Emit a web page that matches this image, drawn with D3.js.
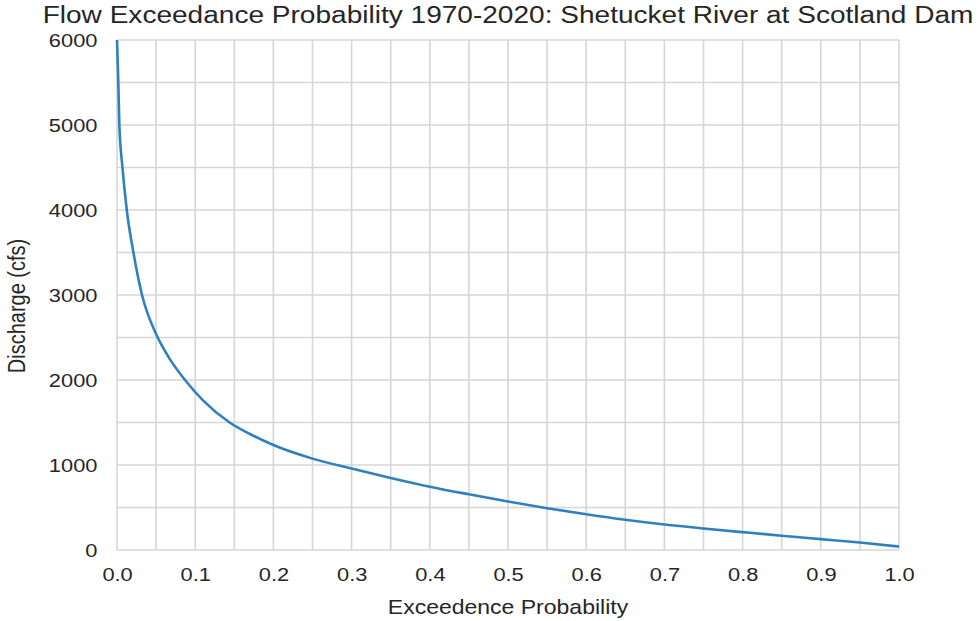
<!DOCTYPE html>
<html>
<head>
<meta charset="utf-8">
<script src="https://cdn.jsdelivr.net/npm/d3@7"></script>
<style>
  body { margin: 0; background: #fff; }
  text { font-family: "Liberation Sans", Arial, sans-serif; fill: #262626; }
  .nss { vector-effect: non-scaling-stroke; }
</style>
</head>
<body>
<div class="result"></div>
<script>
// Page size; the picture is slightly wider than tall in its drawing units
const w = 979;
const h = 621;
const sx = 1.15;            // horizontal stretch of the whole figure
const iw = w / sx;          // inner drawing width
const margin = { top: 40, right: 80 / sx, bottom: 71, left: 117 / sx };

// Data
const exceedance = [0, 0.0017, 0.003, 0.007, 0.0125, 0.021, 0.032, 0.05, 0.068, 0.087,
  0.11, 0.144, 0.17, 0.2, 0.25, 0.3, 0.35, 0.4, 0.45, 0.5,
  0.55, 0.6, 0.65, 0.7, 0.75, 0.8, 0.85, 0.9, 0.95, 1.0];
const discharge = [6000, 5500, 5000, 4500, 4000, 3500, 3000, 2540, 2240, 2000,
  1760, 1500, 1365, 1235, 1075, 958, 848, 745, 655, 570,
  492, 421, 356, 300, 253, 210, 168, 128, 88, 40];
const xTicks = [0, 0.1, 0.2, 0.3, 0.4, 0.5, 0.6, 0.7, 0.8, 0.9, 1.0];
const yTicks = [0, 1000, 2000, 3000, 4000, 5000, 6000];
const xGrid = d3.range(0, 21).map(i => i * 0.05);
const yGrid = d3.range(0, 13).map(i => i * 500);

const dataset = exceedance.map((p, i) => [p, discharge[i]]);

// Scales
const xScale = d3.scaleLinear()
  .domain([0, 1])
  .range([margin.left, iw - margin.right]);

const yScale = d3.scaleLinear()
  .domain([0, 6000])
  .range([h - margin.bottom, margin.top]);

const svg = d3.select('.result')
  .append('svg')
  .attr('width', w)
  .attr('height', h)
  .attr('viewBox', '0 0 ' + iw + ' ' + h)
  .attr('preserveAspectRatio', 'none');

// Grid
const gridColor = '#d6d6d6';
svg.append('g')
  .selectAll('line')
  .data(xGrid)
  .enter()
  .append('line')
  .attr('class', 'nss')
  .attr('x1', d => xScale(d))
  .attr('x2', d => xScale(d))
  .attr('y1', yScale(0))
  .attr('y2', yScale(6000))
  .attr('stroke', gridColor)
  .attr('stroke-width', 1.6);

svg.append('g')
  .selectAll('line')
  .data(yGrid)
  .enter()
  .append('line')
  .attr('class', 'nss')
  .attr('x1', xScale(0))
  .attr('x2', xScale(1))
  .attr('y1', d => yScale(d))
  .attr('y2', d => yScale(d))
  .attr('stroke', gridColor)
  .attr('stroke-width', 1.6);

// Curve
const line = d3.line()
  .x(d => xScale(d[0]))
  .y(d => yScale(d[1]))
  .curve(d3.curveMonotoneX);

svg.append('path')
  .datum(dataset)
  .attr('class', 'nss')
  .attr('d', line)
  .attr('fill', 'none')
  .attr('stroke', '#2f80c0')
  .attr('stroke-width', 2.6);

// X axis
const xAxis = d3.axisBottom(xScale)
  .tickValues(xTicks)
  .tickSize(0)
  .tickPadding(18)
  .tickFormat(d3.format('.1f'));

svg.append('g')
  .attr('transform', 'translate(0,' + yScale(0) + ')')
  .call(xAxis)
  .call(g => g.select('.domain').remove())
  .selectAll('text')
  .style('font-size', '19px');

// Y axis
const yAxis = d3.axisLeft(yScale)
  .tickValues(yTicks)
  .tickSize(0)
  .tickPadding(17)
  .tickFormat(d3.format('d'));

svg.append('g')
  .attr('transform', 'translate(' + xScale(0) + ',0)')
  .call(yAxis)
  .call(g => g.select('.domain').remove())
  .selectAll('text')
  .style('font-size', '19px');

// Title and labels
svg.append('text')
  .attr('x', (xScale(0) + xScale(1)) / 2)
  .attr('y', 23)
  .attr('text-anchor', 'middle')
  .style('font-size', '24.4px')
  .text('Flow Exceedance Probability 1970-2020: Shetucket River at Scotland Dam');

svg.append('text')
  .attr('x', (xScale(0) + xScale(1)) / 2)
  .attr('y', 614)
  .attr('text-anchor', 'middle')
  .style('font-size', '20px')
  .text('Exceedence Probability');

svg.append('text')
  .attr('transform', 'translate(' + (25 / sx) + ',' + 306 + ') rotate(-90)')
  .attr('text-anchor', 'middle')
  .style('font-size', '20px')
  .text('Discharge (cfs)');
</script>
</body>
</html>
